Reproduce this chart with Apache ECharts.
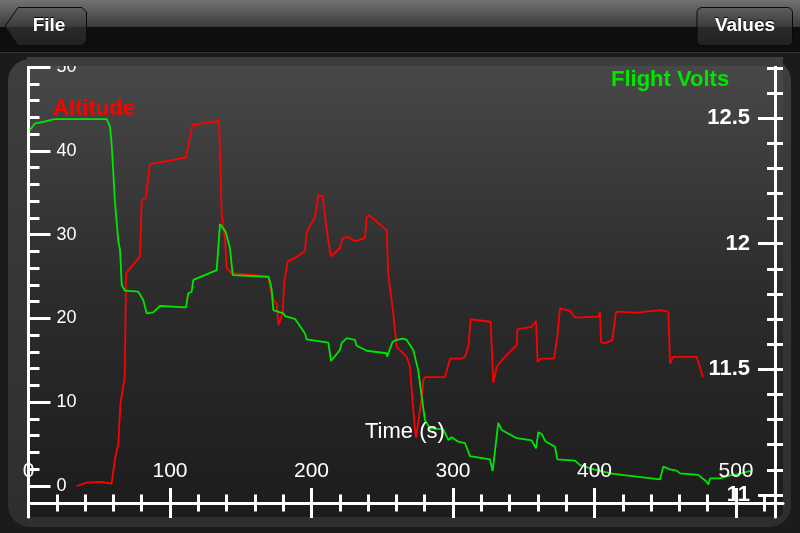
<!DOCTYPE html>
<html>
<head>
<meta charset="utf-8">
<title>Flight log</title>
<script src="https://cdn.jsdelivr.net/npm/echarts@6/dist/echarts.min.js"></script>
<style>
  html, body { margin: 0; padding: 0; background: #1b1b1b; }
  #chart { width: 800px; height: 533px; }
</style>
</head>
<body>
<div id="chart"></div>
<script>
// altitude trace (time in s, altitude)
var altTime = [34, 41, 50.5, 58.8, 61, 63.5, 65, 68, 69, 78.8, 80, 83, 84.5, 85.9, 111.3, 113, 116, 133, 134, 134.8,
  136.5, 138.9, 140, 143.6, 169.5, 170.7, 172.9, 175.4, 176.6, 179.6, 180.8, 183.2, 188.3, 195.4, 196.6, 202.5,
  204.8, 207.9, 209.5, 211.9, 213.8, 220.1, 222, 226, 230.7, 237.8, 239, 240.9, 253.1, 254.3, 257.8, 260.2, 262.5,
  267.3, 269.6, 270.8, 271.9, 273.1, 273.9, 278, 279, 280.2, 294.3, 297.9, 306.1, 308.5, 310.8, 312.5, 326.6, 328.5,
  330.9, 334.4, 345, 345.5, 355.6, 358.7, 359.8, 362, 371.4, 373.7, 375.6, 382.7, 386.2, 402.7, 403.9, 404.6, 406.7,
  412.6, 415.2, 429.8, 446.3, 452.2, 453.4, 455.7, 472.2, 474.5, 476.5]
var altValues = [0, 0.4, 0.5, 0.3, 3.1, 5.1, 9.9, 13, 25.4, 27.4, 34.1, 34.4, 36.7, 38.4, 39.2, 40.7, 43.1, 43.5, 43.8, 42.9,
  32.6, 29.4, 26, 25.4, 25, 23.8, 22.2, 21.8, 19.2, 20.6, 24.4, 26.8, 27.2, 28, 30.3, 32.1,
  34.7, 34.6, 32.3, 29.2, 27.4, 28.4, 29.6, 29.7, 29.2, 29.6, 32.1, 32.3, 30.5, 25.2, 20.6, 16.6, 16.2,
  15.4, 14.2, 11.5, 11.5, 6.7, 5.8, 10.7, 12.6, 13, 13, 15.2, 15.2, 15.4, 16.6, 19.9, 19.6, 12.3,
  14.2, 15, 16.8, 18.7, 19, 19.7, 14.8, 15.2, 15.2, 17.8, 21.2, 20.9, 20.1, 20.2, 20.8, 17.2, 17,
  17.4, 20.8, 20.7, 21, 20.8, 14.6, 15.4, 15.4, 14.2, 13]

// battery voltage trace (time in s, volts)
var voltTime = [1, 4.6, 10.4, 15.2, 18.7, 55.3, 57.6, 58.8, 61.1, 63.5, 64.7, 65.9, 68.2, 77.6, 80, 81.1, 83.5, 84.7,
  88.2, 92.9, 111.3, 112.9, 115.3, 116.5, 133, 135.3, 139.3, 142.4, 144.3, 169.5, 170.7, 171.9, 173, 174.2, 180.1,
  181.3, 188.3, 195.4, 196.6, 211.9, 213.8, 220.1, 221.3, 224.8, 230.7, 231.9, 239, 253.1, 253.5, 257.3, 260.2,
  264.9, 267.3, 271.9, 275.4, 277.9, 280.2, 283.7, 293.1, 296.7, 299, 303.7, 308.5, 309.6, 312, 326.1, 328, 332,
  334.4, 345, 355.6, 358.7, 360.3, 362.7, 365.2, 372.1, 373.7, 386.2, 389.7, 401.5, 413.3, 446.3, 448.6, 453.3,
  458.1, 460.4, 473.3, 479.3, 480.5, 481.7, 488.8, 495.9, 500.5, 511]
var voltValues = [12.452, 12.479, 12.485, 12.492, 12.496, 12.496, 12.466, 12.393, 12.167, 12.008, 11.975, 11.835, 11.813,
  11.809, 11.786, 11.776, 11.723, 11.719, 11.727, 11.752, 11.747, 11.803, 11.809, 11.856, 11.895, 12.078, 12.048,
  11.982, 11.875, 11.868, 11.849, 11.816, 11.736, 11.729, 11.723, 11.712, 11.701, 11.643, 11.619, 11.606, 11.533,
  11.577, 11.604, 11.624, 11.617, 11.594, 11.574, 11.564, 11.55, 11.61, 11.617, 11.622, 11.617, 11.577, 11.497,
  11.391, 11.298, 11.265, 11.261, 11.219, 11.23, 11.212, 11.206, 11.199, 11.155, 11.142, 11.095, 11.287, 11.259,
  11.226, 11.217, 11.186, 11.25, 11.243, 11.214, 11.192, 11.142, 11.137, 11.119, 11.099, 11.084, 11.062, 11.113,
  11.102, 11.097, 11.086, 11.08, 11.053, 11.042, 11.066, 11.066, 11.078, 11.082, 11.097]

// tick settings
var timeMajor = 100
var timeMinor = 20
var timeTickMax = 520
var timeLabelMax = 500
var altMajor = 10
var altMax = 50
var voltMin = 11
var voltMajor = 0.5
var voltMinor = 0.1
var voltLabelMax = 12.5
var voltTickMax = 12.7

// pixel layout of the plot (screen px)
var X0 = 28.5      // x of t = 0
var TPX = 1.415    // px per second
var ALT0 = 486     // y of altitude 0
var APX = 8.38     // px per unit of altitude
var V11 = 495      // y of 11 V
var VPX = 251.3    // px per volt
var PLOT_TOP = 66
var PLOT_BOTTOM = 517
var RIGHT_AXIS = 775
var X_AXIS_Y = 503

var FONT = '"Liberation Sans", Arial, Helvetica, sans-serif'
var W = 800
var H = 533

function altY(v) { return ALT0 - v * APX }
function voltY(v) { return V11 - (v - voltMin) * VPX }
function timeX(t) { return X0 + t * TPX }

function grid(top, bottom, right) {
  return { left: X0, right: W - right, top: top, bottom: H - bottom, outerBoundsMode: 'none', containLabel: false }
}

var white = '#ffffff'
var noSplit = { show: false }
var hiddenX = function(i) { return { gridIndex: i, type: 'value', show: false, min: 0, max: 1, axisLine: { onZero: false } } }
var hiddenY = function(i) { return { gridIndex: i, type: 'value', show: false, min: 0, max: 1, axisLine: { onZero: false } } }

var chart = echarts.init(document.getElementById('chart'))

chart.setOption({
  animation: false,
  backgroundColor: '#1b1b1b',
  textStyle: { fontFamily: FONT },
  grid: [
    grid(PLOT_TOP, PLOT_BOTTOM, RIGHT_AXIS),                   // 0 data
    grid(altY(altMax), ALT0, RIGHT_AXIS),                       // 1 altitude ticks
    grid(voltY(voltTickMax), V11, RIGHT_AXIS),                  // 2 volt minor ticks
    grid(voltY(voltLabelMax), V11, RIGHT_AXIS),                 // 3 volt major ticks
    grid(300, X_AXIS_Y, 783),                                   // 4 time axis line
    grid(300, X_AXIS_Y, timeX(timeLabelMax)),                   // 5 time major ticks
    grid(300, X_AXIS_Y, timeX(timeTickMax))                     // 6 time minor ticks
  ],
  title: [
    {
      text: 'Altitude', left: 53, top: 98, padding: 0,
      textStyle: { color: '#ff0000', fontSize: 22, fontWeight: 'bold', fontFamily: FONT }
    },
    {
      text: 'Flight Volts', left: 611, top: 69, padding: 0,
      textStyle: { color: '#00e600', fontSize: 22, fontWeight: 'bold', fontFamily: FONT }
    },
    {
      text: 'Time (s)', left: 365, top: 421, padding: 0,
      textStyle: { color: white, fontSize: 22, fontWeight: 'normal', fontFamily: FONT }
    }
  ],
  xAxis: [
    { gridIndex: 0, type: 'value', min: 0, max: (RIGHT_AXIS - X0) / TPX, show: false, axisLine: { onZero: false } },
    hiddenX(1), hiddenX(2), hiddenX(3),
    {
      gridIndex: 4, type: 'value', min: 0, max: 1,
      axisLine: { show: true, onZero: false, lineStyle: { color: white, width: 3 } },
      axisTick: { show: false }, axisLabel: { show: false }, splitLine: noSplit
    },
    {
      gridIndex: 5, type: 'value', min: 0, max: timeLabelMax, interval: timeMajor, offset: 15, z: 3,
      axisLine: { show: false, onZero: false },
      axisTick: { show: true, inside: true, length: 30, lineStyle: { color: white, width: 3 } },
      axisLabel: { show: true, inside: true, margin: 36, color: white, fontSize: 21, fontFamily: FONT },
      splitLine: noSplit
    },
    {
      gridIndex: 6, type: 'value', min: 0, max: timeTickMax, interval: timeMinor, offset: 8.5,
      axisLine: { show: false, onZero: false },
      axisTick: { show: true, inside: true, length: 17, lineStyle: { color: white, width: 3 } },
      axisLabel: { show: false }, splitLine: noSplit
    }
  ],
  yAxis: [
    {
      gridIndex: 0, type: 'value', position: 'left',
      min: (ALT0 - PLOT_BOTTOM) / APX, max: (ALT0 - PLOT_TOP) / APX,
      axisLine: { show: true, onZero: false, lineStyle: { color: white, width: 3 } },
      axisTick: { show: false }, axisLabel: { show: false }, splitLine: noSplit
    },
    {
      gridIndex: 0, type: 'value', position: 'right',
      min: voltMin - (PLOT_BOTTOM - V11) / VPX, max: voltMin + (V11 - PLOT_TOP) / VPX,
      axisLine: { show: true, onZero: false, lineStyle: { color: white, width: 3 } },
      axisTick: { show: false }, axisLabel: { show: false }, splitLine: noSplit
    },
    {
      gridIndex: 1, type: 'value', position: 'left', min: 0, max: altMax, interval: altMajor, z: 3,
      axisLine: { show: false, onZero: false },
      axisTick: { show: true, inside: true, length: 22, lineStyle: { color: white, width: 3 } },
      minorTick: { show: true, splitNumber: 5, length: 11, lineStyle: { color: white, width: 3 } },
      axisLabel: { show: true, inside: true, margin: 28, color: white, fontSize: 18, fontFamily: FONT },
      splitLine: noSplit, minorSplitLine: noSplit
    },
    {
      gridIndex: 2, type: 'value', position: 'right', offset: 8, min: voltMin, max: voltTickMax, interval: voltMinor,
      axisLine: { show: false, onZero: false },
      axisTick: { show: true, inside: true, length: 16, lineStyle: { color: white, width: 3 } },
      axisLabel: { show: false }, splitLine: noSplit
    },
    {
      gridIndex: 3, type: 'value', position: 'right', offset: 8, min: voltMin, max: voltLabelMax, interval: voltMajor, z: 3,
      axisLine: { show: false, onZero: false },
      axisTick: { show: true, inside: true, length: 25, lineStyle: { color: white, width: 3 } },
      axisLabel: { show: true, inside: true, margin: 33, color: white, fontSize: 22, fontWeight: 'bold', fontFamily: FONT },
      splitLine: noSplit
    },
    hiddenY(4), hiddenY(5), hiddenY(6)
  ],
  series: [
    {
      name: 'Altitude',
      type: 'line',
      xAxisIndex: 0,
      yAxisIndex: 0,
      data: altTime.map(function(t, i) { return [t, altValues[i]] }),
      symbol: 'none',
      z: 1,
      lineStyle: { color: '#ff0000', width: 1.8 },
      itemStyle: { color: '#ff0000' }
    },
    {
      name: 'Flight Volts',
      type: 'line',
      xAxisIndex: 0,
      yAxisIndex: 1,
      data: voltTime.map(function(t, i) { return [t, voltValues[i]] }),
      symbol: 'none',
      z: 1,
      lineStyle: { color: '#00e600', width: 1.8 },
      itemStyle: { color: '#00e600' }
    }
  ],
  graphic: [
    // top bar
    {
      type: 'rect', z: -10, shape: { x: 0, y: 0, width: W, height: 27 },
      style: { fill: new echarts.graphic.LinearGradient(0, 0, 0, 1, [
        { offset: 0, color: '#727272' }, { offset: 1, color: '#3a3a3a' }]) }
    },
    { type: 'rect', z: -10, shape: { x: 0, y: 27, width: W, height: 25 }, style: { fill: '#0e0e0e' } },
    { type: 'rect', z: -10, shape: { x: 0, y: 52, width: W, height: 1 }, style: { fill: '#333333' } },
    // buttons
    {
      type: 'polygon', z: -9,
      shape: { points: [[5, 26.5], [18, 7.5], [82, 7.5], [86.5, 12], [86.5, 41], [82, 45.5], [18, 45.5]] },
      style: {
        fill: new echarts.graphic.LinearGradient(0, 0, 0, 1, [
          { offset: 0, color: '#5e5e5e' }, { offset: 0.5, color: '#3c3c3c' }, { offset: 0.51, color: '#2a2a2a' }, { offset: 1, color: '#222222' }]),
        stroke: '#0a0a0a', lineWidth: 1
      }
    },
    {
      type: 'rect', z: -9, shape: { x: 697, y: 7.5, width: 95.5, height: 38, r: 5 },
      style: {
        fill: new echarts.graphic.LinearGradient(0, 0, 0, 1, [
          { offset: 0, color: '#5e5e5e' }, { offset: 0.5, color: '#3c3c3c' }, { offset: 0.51, color: '#2a2a2a' }, { offset: 1, color: '#222222' }]),
        stroke: '#0a0a0a', lineWidth: 1
      }
    },
    {
      type: 'text', z: -8,
      style: { text: 'File', x: 49, y: 26, align: 'center', verticalAlign: 'middle', textAlign: 'center', textVerticalAlign: 'middle',
        font: 'bold 19px ' + FONT, fill: white, textShadowColor: '#000', textShadowOffsetY: -1, textShadowBlur: 1 }
    },
    {
      type: 'text', z: -8,
      style: { text: 'Values', x: 745, y: 26, align: 'center', verticalAlign: 'middle', textAlign: 'center', textVerticalAlign: 'middle',
        font: 'bold 19px ' + FONT, fill: white, textShadowColor: '#000', textShadowOffsetY: -1, textShadowBlur: 1 }
    },
    // panel frame and plot background
    {
      type: 'rect', z: -10, shape: { x: 8, y: 59, width: 783, height: 468, r: 22 },
      style: { fill: new echarts.graphic.LinearGradient(0, 0, 0, 1, [
        { offset: 0, color: '#3e3e3e' }, { offset: 1, color: '#2e2e2e' }]) }
    },
    {
      type: 'rect', z: -9, shape: { x: 27, y: PLOT_TOP, width: 756, height: PLOT_BOTTOM - PLOT_TOP, r: [10, 10, 6, 6] },
      style: { fill: new echarts.graphic.LinearGradient(0, 0, 0, 1, [
        { offset: 0, color: '#484848' }, { offset: 0.5, color: '#2c2c2c' }, { offset: 1, color: '#1c1c1c' }]) }
    },
    // frame edge that cuts the top label
    { type: 'rect', z: 5, shape: { x: 27, y: 57, width: 756, height: PLOT_TOP - 57 }, style: { fill: '#3d3d3d' } }
  ]
})
</script>
</body>
</html>
